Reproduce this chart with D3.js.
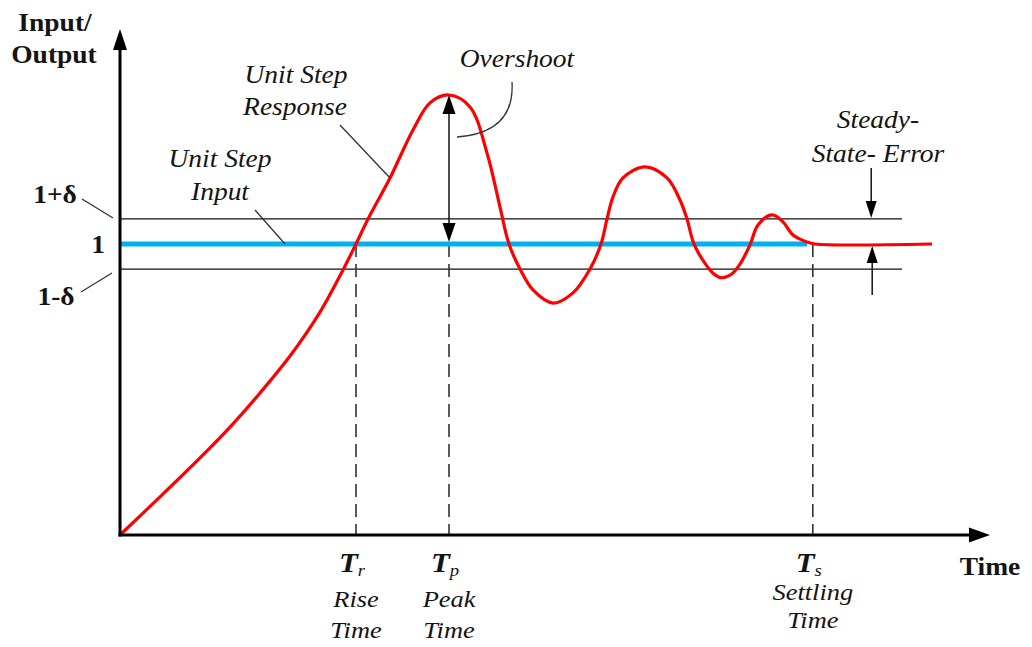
<!DOCTYPE html>
<html>
<head>
<meta charset="utf-8">
<script src="https://cdn.jsdelivr.net/npm/d3@7"></script>
<style>
  html, body { margin: 0; padding: 0; background: #fff; }
  svg { display: block; }
  text { font-family: "Liberation Serif", "Times New Roman", serif; fill: #141414; }
</style>
</head>
<body>
<svg id="chart" width="1032" height="647"></svg>
<script>
// ---- data (time in arbitrary units, output relative to unit step) ----
const responseTime = [0, 0.5, 1.0, 1.375, 1.75, 2.125, 2.5, 2.7875, 2.95, 3.1, 3.375, 3.6625, 3.875, 4.1125, 4.375, 4.5875, 4.75, 4.8625, 5.0, 5.1625, 5.4125, 5.6625, 5.875, 6.0125, 6.0875, 6.1625, 6.2875, 6.5625, 6.8375, 7.0, 7.0875, 7.175, 7.3375, 7.4375, 7.525, 7.6375, 7.75, 7.875, 7.975, 8.15, 8.2875, 8.4125, 8.5875, 8.6875, 10.15];
const responseValue = [0, 0.131, 0.265, 0.371, 0.488, 0.615, 0.766, 0.911, 1.0, 1.086, 1.227, 1.392, 1.485, 1.512, 1.471, 1.313, 1.127, 1.0, 0.914, 0.842, 0.797, 0.832, 0.914, 1.0, 1.086, 1.162, 1.227, 1.265, 1.227, 1.151, 1.086, 1.0, 0.924, 0.894, 0.884, 0.895, 0.931, 0.997, 1.065, 1.1, 1.076, 1.031, 1.007, 1.0, 1.0];
const inputTime = [0, 8.59];
const inputValue = [1, 1];
const delta = 0.086;
const bandEnd = 9.775;
const timeMarks = [2.95, 4.1125, 8.66];           // Tr, Tp, Ts
const timeMarkSymbols = ["r", "p", "s"];
const timeMarkNames = [["Rise", "Time"], ["Peak", "Time"], ["Settling", "Time"]];
const peakTime = 4.1125, peakValue = 1.512;
const sseTime = 9.39;
const yLevelLabels = ["1+δ", "1", "1-δ"];

// ---- scales ----
const x = d3.scaleLinear().domain([0, 10]).range([120, 920]);
const y = d3.scaleLinear().domain([0, 1]).range([535, 244]);

const svg = d3.select("#chart");
const SX = 1.1;

function label(px, py, str, opts = {}) {
  const t = svg.append("text")
    .attr("transform", `translate(${px},${py}) scale(${SX},1)`)
    .attr("text-anchor", opts.anchor || "middle")
    .attr("font-family", "Liberation Serif")
    .style("font-size", (opts.size || 25) + "px")
    .style("font-weight", opts.bold ? "bold" : "normal")
    .style("font-style", opts.italic ? "italic" : "normal")
    .text(str);
  return t;
}
function tri(tipX, tipY, dx, dy, len, hw) {
  const bx = tipX - dx * len, by = tipY - dy * len;
  const px = -dy, py = dx;
  return `M${tipX},${tipY}L${bx + px * hw},${by + py * hw}L${bx - px * hw},${by - py * hw}Z`;
}

// ---- tolerance band lines ----
[1 + delta, 1 - delta].forEach(v => {
  svg.append("line")
    .attr("x1", x(0)).attr("x2", x(bandEnd))
    .attr("y1", y(v)).attr("y2", y(v))
    .attr("stroke", "#111").attr("stroke-width", 1.3);
});

// ---- dashed time markers ----
timeMarks.forEach(t => {
  svg.append("line")
    .attr("x1", x(t)).attr("x2", x(t))
    .attr("y1", y(1)).attr("y2", y(0))
    .attr("stroke", "#333").attr("stroke-width", 1.6)
    .attr("stroke-dasharray", "13,7");
});

// ---- input (blue) ----
const inputData = inputTime.map((t, i) => [t, inputValue[i]]);
svg.append("path")
  .datum(inputData)
  .attr("d", d3.line().x(d => x(d[0])).y(d => y(d[1])))
  .attr("stroke", "#00b0f0").attr("stroke-width", 5).attr("fill", "none");

// ---- response (red) ----
const respData = responseTime.map((t, i) => [t, responseValue[i]]);
svg.append("path")
  .datum(respData)
  .attr("d", d3.line().x(d => x(d[0])).y(d => y(d[1])).curve(d3.curveCatmullRom.alpha(0.5)))
  .attr("stroke", "#ff0000").attr("stroke-width", 3.2).attr("fill", "none")
  .attr("stroke-linejoin", "round");

// ---- axes ----
const axisTipY = 29, axisTipX = 990;
svg.append("line").attr("x1", x(0)).attr("x2", x(0)).attr("y1", y(0) + 1.5).attr("y2", axisTipY + 15)
  .attr("stroke", "#000").attr("stroke-width", 3);
svg.append("path").attr("d", tri(x(0), axisTipY, 0, -1, 21, 7)).attr("fill", "#000");
svg.append("line").attr("x1", x(0) - 1.5).attr("x2", axisTipX - 15).attr("y1", y(0)).attr("y2", y(0))
  .attr("stroke", "#000").attr("stroke-width", 3);
svg.append("path").attr("d", tri(axisTipX, y(0), 1, 0, 21, 7.5)).attr("fill", "#000");

// ---- overshoot double arrow ----
const ox = x(peakTime);
svg.append("line").attr("x1", ox).attr("x2", ox).attr("y1", y(peakValue) + 12).attr("y2", y(1) - 12)
  .attr("stroke", "#111").attr("stroke-width", 1.5);
svg.append("path").attr("d", tri(ox, y(peakValue), 0, -1, 19, 6.5)).attr("fill", "#000");
svg.append("path").attr("d", tri(ox, y(1) - 2, 0, 1, 19, 6.5)).attr("fill", "#000");

// ---- steady-state error arrows ----
const sx = x(sseTime);
svg.append("line").attr("x1", sx).attr("x2", sx).attr("y1", 168).attr("y2", y(1 + delta) - 8)
  .attr("stroke", "#111").attr("stroke-width", 1.5);
svg.append("path").attr("d", tri(sx, y(1 + delta) - 1, 0, 1, 17, 5.5)).attr("fill", "#000");
svg.append("line").attr("x1", sx + 1).attr("x2", sx + 1).attr("y1", 295).attr("y2", y(1) + 10)
  .attr("stroke", "#111").attr("stroke-width", 1.5);
svg.append("path").attr("d", tri(sx + 1, y(1) + 2, 0, -1, 17, 5.5)).attr("fill", "#000");

// ---- leader lines ----
const leader = (x1, y1, x2, y2) => svg.append("line")
  .attr("x1", x1).attr("y1", y1).attr("x2", x2).attr("y2", y2)
  .attr("stroke", "#333").attr("stroke-width", 1.3);
leader(82, 199, 113, 218);          // 1+δ
leader(81, 292, 112, 273);          // 1-δ
leader(255, 210, 285, 244);         // unit step input
leader(340, 125, 390, 178);         // unit step response
svg.append("path").attr("d", "M512,82 Q515,133 457,137")
  .attr("stroke", "#333").attr("stroke-width", 1.3).attr("fill", "none");

// ---- texts ----
label(55, 31, "Input/", { bold: true });
label(54, 63, "Output", { bold: true });
label(55, 203, yLevelLabels[0], { bold: true });
label(98, 253, yLevelLabels[1], { bold: true });
label(56, 305, yLevelLabels[2], { bold: true });

label(296, 83, "Unit Step", { italic: true });
label(295, 115, "Response", { italic: true });
label(220, 167, "Unit Step", { italic: true });
label(220, 200, "Input", { italic: true });
label(517, 67, "Overshoot", { italic: true });
label(878, 128, "Steady-", { italic: true });
label(878, 162, "State- Error", { italic: true });

label(990, 575, "Time", { bold: true, anchor: "middle" });

const nameBase = [[607, 638], [607, 638], [600, 628]];
timeMarks.forEach((t, i) => {
  const cx = x(t);
  const tt = svg.append("text")
    .attr("transform", `translate(${cx - 4},572) scale(${SX},1)`)
    .attr("text-anchor", "middle")
    .attr("font-family", "Liberation Serif")
    .style("font-size", "28px").style("font-weight", "bold").style("font-style", "italic");
  tt.append("tspan").text("T");
  tt.append("tspan").attr("dy", 4).style("font-size", "17px").style("font-weight", "normal").text(timeMarkSymbols[i]);
  label(cx, nameBase[i][0], timeMarkNames[i][0], { italic: true, size: 24 });
  label(cx, nameBase[i][1], timeMarkNames[i][1], { italic: true, size: 24 });
});
</script>
</body>
</html>
